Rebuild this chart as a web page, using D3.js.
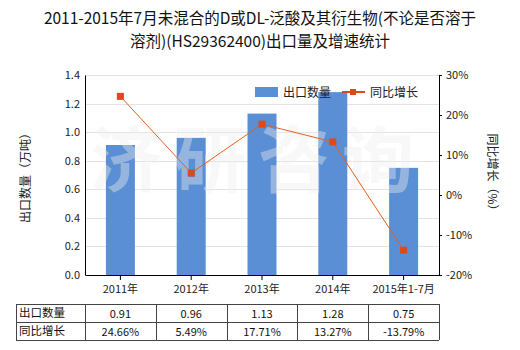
<!DOCTYPE html>
<html><head><meta charset="utf-8">
<script src="https://cdn.jsdelivr.net/npm/d3@7"></script>
<style>body{margin:0;background:#fff;} svg{display:block;font-family:"Noto Sans CJK SC","Noto Sans",sans-serif;}</style>
</head><body>
<svg id="c" width="520" height="350"></svg>
<script>
const categories = ["2011年","2012年","2013年","2014年","2015年1-7月"];
const exportQty = [0.91,0.96,1.13,1.28,0.75];
const growth = [24.66,5.49,17.71,13.27,-13.79];
const qtyLabels = ["0.91","0.96","1.13","1.28","0.75"];
const growthLabels = ["24.66%","5.49%","17.71%","13.27%","-13.79%"];
const leftTicks = [0,0.2,0.4,0.6,0.8,1.0,1.2,1.4];
const rightTicks = [-20,-10,0,10,20,30];
const titleLines = ["2011-2015年7月未混合的D或DL-泛酸及其衍生物(不论是否溶于","溶剂)(HS29362400)出口量及增速统计"];
const seriesNames = ["出口数量","同比增长"];

const svg = d3.select("#c");
const L=85,R=439,T=75,B=275;
const x = d3.scaleBand().domain(categories).range([L,R]);
const y = d3.scaleLinear().domain([0,1.4]).range([B,T]);
const y2 = d3.scaleLinear().domain([-20,30]).range([B,T]);
const barColor="#5a8fd5", lineColor="#e2611f", markColor="#dc4a1a";

// title
svg.selectAll("text.title").data(titleLines).join("text")
  .attr("x",260).attr("y",(d,i)=>24+i*23).attr("text-anchor","middle")
  .attr("font-size",15.5).attr("fill","#111").text(d=>d);

// gridlines
svg.append("g").selectAll("line").data(leftTicks.slice(1)).join("line")
  .attr("x1",L).attr("x2",R).attr("y1",d=>Math.round(y(d))+0.5).attr("y2",d=>Math.round(y(d))+0.5)
  .attr("stroke","#e3e3e3");

// bars
const bw=29;
svg.append("g").selectAll("rect").data(exportQty).join("rect")
  .attr("x",(d,i)=>x(categories[i])+x.bandwidth()/2-bw/2).attr("width",bw)
  .attr("y",d=>y(d)).attr("height",d=>B-y(d)).attr("fill",barColor);

// watermark
svg.append("text").attr("x",258).attr("y",186).attr("text-anchor","middle")
  .attr("font-size",72).attr("font-weight","bold").attr("fill","#eeeeee").attr("opacity",0.4)
  .attr("letter-spacing",12).text("济研咨询");

// line
const cx=(i)=>x(categories[i])+x.bandwidth()/2;
svg.append("path").datum(growth)
  .attr("d",d3.line().x((d,i)=>cx(i)).y(d=>y2(d)))
  .attr("fill","none").attr("stroke",lineColor).attr("stroke-width",1);
svg.append("g").selectAll("rect").data(growth).join("rect")
  .attr("x",(d,i)=>cx(i)-3.5).attr("y",d=>y2(d)-3.5).attr("width",7).attr("height",7)
  .attr("fill",markColor);

// axes
const ax = svg.append("g").attr("transform",`translate(0,${B})`)
  .call(d3.axisBottom(x).tickSize(5).tickSizeOuter(0));
ax.select(".domain").attr("stroke","#000");
ax.selectAll(".tick line").attr("stroke","#000");
ax.selectAll("text").attr("font-size",11).attr("fill","#222").attr("dy","0.9em").attr("font-family","'Noto Sans CJK SC',sans-serif");

const al = svg.append("g").attr("transform",`translate(${L},0)`)
  .call(d3.axisLeft(y).tickValues(leftTicks).tickFormat(d3.format(".1f")).tickSize(0).tickPadding(5));
al.select(".domain").attr("stroke","#000");
al.selectAll("text").attr("font-size",11).attr("fill","#222").attr("font-family","'Noto Sans CJK SC',sans-serif");

const ar = svg.append("g").attr("transform",`translate(${R},0)`)
  .call(d3.axisRight(y2).tickValues(rightTicks).tickFormat(d=>d+"%").tickSize(3).tickSizeOuter(0).tickPadding(4));
ar.select(".domain").attr("stroke","#000");
ar.selectAll(".tick line").attr("stroke","#000");
ar.selectAll("text").attr("font-size",11).attr("fill","#222").attr("font-family","'Noto Sans CJK SC',sans-serif");

// axis titles
svg.append("text").attr("transform","translate(30,175) rotate(-90)").attr("text-anchor","middle")
  .attr("font-size",12).attr("fill","#222").text("出口数量（万吨）");
svg.append("text").attr("transform","translate(488,175) rotate(90)").attr("text-anchor","middle")
  .attr("font-size",12).attr("fill","#222").text("同比增长（%）");

// legend
svg.append("rect").attr("x",255).attr("y",87).attr("width",23).attr("height",10).attr("fill",barColor);
svg.append("text").attr("x",283).attr("y",96.5).attr("font-size",12).attr("fill","#222").text(seriesNames[0]);
svg.append("line").attr("x1",342).attr("x2",365).attr("y1",92).attr("y2",92).attr("stroke",markColor).attr("stroke-width",2);
svg.append("rect").attr("x",350).attr("y",89).attr("width",6).attr("height",6).attr("fill",markColor);
svg.append("text").attr("x",370).attr("y",96.5).attr("font-size",12).attr("fill","#222").text(seriesNames[1]);

// table
const tL=16, tT=304, rowH=18;
const cols=[tL,L].concat(categories.map(c=>x(c)+x.bandwidth())); // boundaries
const tb = svg.append("g");
const rows=[[seriesNames[0],qtyLabels],[seriesNames[1],growthLabels]];
rows.forEach((r,ri)=>{
  const yy=tT+ri*rowH;
  tb.append("text").attr("x",tL+3).attr("y",yy+13).attr("font-size",11.5).attr("fill","#111").text(r[0]);
  r[1].forEach((v,i)=>{
    tb.append("text").attr("x",x(categories[i])+x.bandwidth()/2).attr("y",yy+14)
      .attr("text-anchor","middle").attr("font-size",11).attr("fill","#111").text(v);
  });
});
const tR=cols[cols.length-1];
[0,1,2].forEach(i=>tb.append("line").attr("x1",tL).attr("x2",tR).attr("y1",tT+i*rowH+0.5).attr("y2",tT+i*rowH+0.5).attr("stroke","#444"));
cols.forEach(c=>tb.append("line").attr("x1",Math.round(c)+0.5).attr("x2",Math.round(c)+0.5).attr("y1",tT).attr("y2",tT+2*rowH).attr("stroke","#444"));
</script>
</body></html>
